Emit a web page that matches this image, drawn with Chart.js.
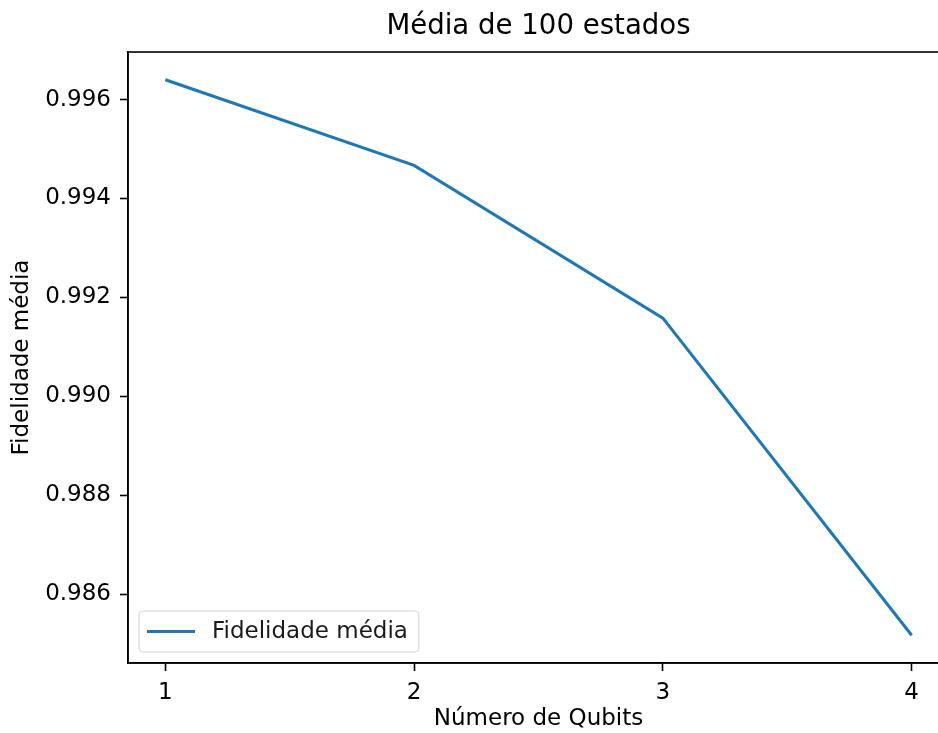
<!DOCTYPE html>
<html>
<head>
<meta charset="utf-8">
<script src="https://cdn.jsdelivr.net/npm/chart.js@4/dist/chart.umd.min.js"></script>
<style>
  html, body { margin: 0; padding: 0; background: #ffffff; overflow: hidden; width: 938px; height: 733px; }
  #wrap { width: 960px; height: 733px; }
</style>
</head>
<body>
<div id="wrap"><canvas id="chart" width="960" height="733"></canvas></div>
<script>
// Mean fidelity over 100 random states, by number of qubits
const qubits = [1, 2, 3, 4];
const meanFidelity = [0.99640, 0.99467, 0.99158, 0.98517];
const xTicks = [1, 2, 3, 4];
const yTicks = [0.986, 0.988, 0.990, 0.992, 0.994, 0.996];

const titleText = 'Média de 100 estados';
const xTitle = 'Número de Qubits';
const yTitle = 'Fidelidade média';
const seriesLabel = 'Fidelidade média';

const FONT = 'DejaVu Sans';
const LINE_BLUE = '#1f77b4';
const TEXT_SIZE = 23;

// 5% margins around the data range, like the default autoscaling of a plot
const xMin = Math.min(...qubits), xMax = Math.max(...qubits);
const yMin = Math.min(...meanFidelity), yMax = Math.max(...meanFidelity);
const xPad = (xMax - xMin) * 0.05, yPad = (yMax - yMin) * 0.05;

// frame around the plotting area (top and right spines) and the legend box
const framePlugin = {
  id: 'frameAndLegend',
  afterDatasetsDraw(chart) {
    const { ctx, chartArea: a } = chart;
    ctx.save();
    ctx.strokeStyle = '#000000';
    ctx.lineWidth = 1.6;
    ctx.strokeRect(a.left, a.top, a.right - a.left, a.bottom - a.top);

    // legend in the lower-left corner of the plotting area
    const ds = chart.data.datasets[0];
    ctx.font = TEXT_SIZE + 'px "' + FONT + '"';
    const tw = ctx.measureText(ds.label).width;
    const bx = a.left + 11, by = a.bottom - 52, bh = 41;
    const bw = 73 + tw + 11;
    ctx.beginPath();
    ctx.roundRect(bx, by, bw, bh, 4);
    ctx.fillStyle = 'rgba(255,255,255,0.8)';
    ctx.fill();
    ctx.strokeStyle = '#d6d6d6';
    ctx.lineWidth = 1.2;
    ctx.stroke();
    ctx.beginPath();
    ctx.moveTo(bx + 8, by + bh / 2);
    ctx.lineTo(bx + 56, by + bh / 2);
    ctx.strokeStyle = ds.borderColor;
    ctx.lineWidth = ds.borderWidth;
    ctx.stroke();
    ctx.fillStyle = '#1a1a1a';
    ctx.textAlign = 'left';
    ctx.textBaseline = 'middle';
    ctx.fillText(ds.label, bx + 73, by + bh / 2 + 1);
    ctx.restore();
  }
};

new Chart(document.getElementById('chart'), {
  type: 'line',
  data: {
    datasets: [{
      label: seriesLabel,
      data: qubits.map((q, i) => ({ x: q, y: meanFidelity[i] })),
      borderColor: LINE_BLUE,
      backgroundColor: LINE_BLUE,
      borderWidth: 3,
      pointRadius: 0,
      tension: 0,
      fill: false
    }]
  },
  options: {
    responsive: false,
    animation: false,
    layout: { padding: { left: 0, right: 11, top: 0, bottom: 0 } },
    plugins: {
      legend: { display: false },
      tooltip: { enabled: false },
      title: {
        display: true,
        text: titleText,
        fullSize: false,
        color: '#000000',
        font: { family: FONT, size: 27.6, weight: 'normal', lineHeight: 1.2 },
        padding: { top: 10, bottom: 8.9 }
      }
    },
    scales: {
      x: {
        type: 'linear',
        min: xMin - xPad,
        max: xMax + xPad,
        afterBuildTicks(scale) { scale.ticks = xTicks.map(v => ({ value: v })); },
        afterFit(scale) { scale.height = 70; },
        ticks: {
          color: '#000000',
          font: { family: FONT, size: TEXT_SIZE },
          padding: 8,
          maxRotation: 0,
          callback: v => String(v)
        },
        grid: { drawOnChartArea: false, drawTicks: true, tickLength: 8, tickColor: '#000000', tickWidth: 1.6 },
        border: { display: true, color: '#000000', width: 1.6 },
        title: {
          display: true,
          text: xTitle,
          color: '#000000',
          font: { family: FONT, size: TEXT_SIZE, lineHeight: 1.2 },
          padding: { top: 0, bottom: 0 }
        }
      },
      y: {
        type: 'linear',
        min: yMin - yPad,
        max: yMax + yPad,
        afterBuildTicks(scale) { scale.ticks = yTicks.map(v => ({ value: v })); },
        afterFit(scale) { scale.width = 128; },
        ticks: {
          color: '#000000',
          font: { family: FONT, size: TEXT_SIZE },
          padding: 9,
          callback: v => v.toFixed(3)
        },
        grid: { drawOnChartArea: false, drawTicks: true, tickLength: 8, tickColor: '#000000', tickWidth: 1.6 },
        border: { display: true, color: '#000000', width: 1.6 },
        title: {
          display: true,
          text: yTitle,
          color: '#000000',
          font: { family: FONT, size: TEXT_SIZE, lineHeight: 1.2 },
          padding: { top: 8, bottom: 0 }
        }
      }
    }
  },
  plugins: [framePlugin]
});
</script>
</body>
</html>
